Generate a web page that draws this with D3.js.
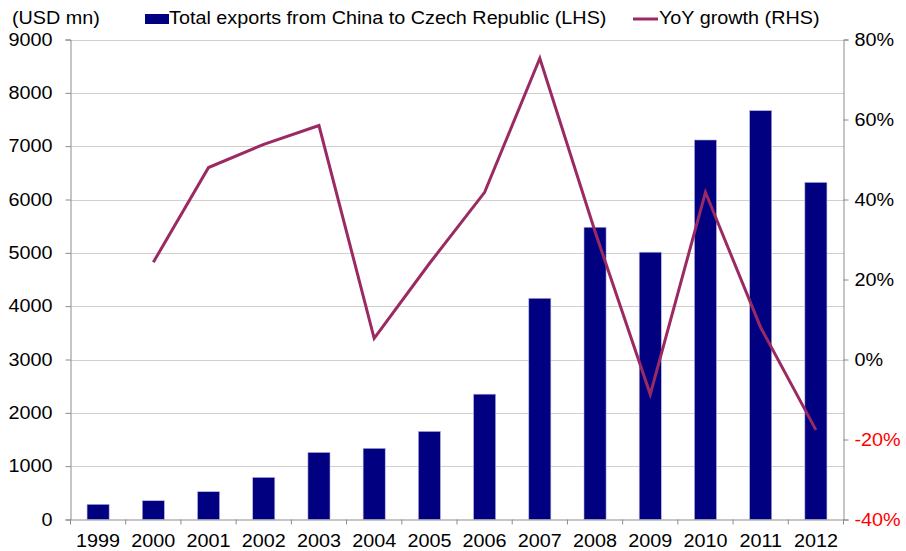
<!DOCTYPE html>
<html>
<head>
<meta charset="utf-8">
<script src="https://cdn.jsdelivr.net/npm/d3@7"></script>
<style>
  html, body { margin: 0; padding: 0; background: #fff; }
  svg { display: block; font-family: "Liberation Sans", Arial, sans-serif; }
</style>
</head>
<body>
<svg id="chart" width="906" height="551"></svg>
<script>
// Annual exports from China to the Czech Republic (USD mn) and YoY growth
const years = ["1999","2000","2001","2002","2003","2004","2005","2006","2007","2008","2009","2010","2011","2012"];
const exportsUsd = [285, 352, 521, 790, 1258, 1335, 1652, 2350, 4148, 5480, 5012, 7116, 7666, 6322];
const yoyGrowth = [null, 24.3, 48.0, 53.8, 58.5, 5.3, 24.0, 41.8, 75.3, 32.0, -8.7, 41.8, 8.0, -17.6];
const leftTicks = [0,1000,2000,3000,4000,5000,6000,7000,8000,9000];
const rightTicks = [-40,-20,0,20,40,60,80];

const svg = d3.select("#chart");
const m = { left: 70.5, right: 843.5, top: 39.5, bottom: 519.5 };
const FONT = 17.5;
const STRETCH = 1.13;

const x = d3.scaleBand().domain(years).range([m.left, m.right]).paddingInner(0.6).paddingOuter(0.3);
const xCat = d3.scaleBand().domain(years).range([m.left, m.right]);
const yL = d3.scaleLinear().domain([0, 9000]).range([m.bottom, m.top]);
const yR = d3.scaleLinear().domain([-40, 80]).range([m.bottom, m.top]);

// gridlines
svg.append("g").selectAll("line").data(leftTicks.slice(1)).join("line")
  .attr("x1", m.left).attr("x2", m.right)
  .attr("y1", d => Math.round(yL(d)) + 0.5).attr("y2", d => Math.round(yL(d)) + 0.5)
  .attr("stroke", "#a0a0a0").attr("stroke-width", 1).attr("stroke-dasharray", "1,1");

// bars
svg.append("g").selectAll("rect").data(years).join("rect")
  .attr("x", d => x(d)).attr("width", x.bandwidth())
  .attr("y", (d, i) => yL(exportsUsd[i]))
  .attr("height", (d, i) => yL(0) - yL(exportsUsd[i]))
  .attr("fill", "#000080").attr("stroke", "#b8b8e0").attr("stroke-width", 0.6);

// axes
const axisColor = "#8c8c8c";
const gL = svg.append("g").attr("transform", `translate(${m.left},0)`)
  .call(d3.axisLeft(yL).tickValues(leftTicks).tickSize(5).tickPadding(13).tickFormat(d3.format("d")));
const gR = svg.append("g").attr("transform", `translate(${m.right},0)`)
  .call(d3.axisRight(yR).tickValues(rightTicks).tickSize(5).tickPadding(6).tickFormat(d => d + "%"));
const gB = svg.append("g").attr("transform", `translate(0,${m.bottom})`)
  .call(d3.axisBottom(xCat).tickSize(0).tickPadding(15));

[gL, gR, gB].forEach(g => {
  g.select(".domain").attr("stroke", axisColor);
  g.selectAll(".tick line").attr("stroke", axisColor);
  g.selectAll("text").attr("font-size", FONT).attr("fill", "#000")
    .attr("font-family", "'Liberation Sans', Arial, sans-serif");
});
gR.selectAll("text").attr("fill", d => d < 0 ? "#ff0000" : "#000");

// category boundary ticks on the x axis
svg.append("g").selectAll("line").data(d3.range(years.length + 1)).join("line")
  .attr("x1", i => m.left + i * xCat.step()).attr("x2", i => m.left + i * xCat.step())
  .attr("y1", m.bottom).attr("y2", m.bottom + 5)
  .attr("stroke", axisColor);

// growth line
const line = d3.line()
  .defined(d => d.v !== null)
  .x(d => xCat(d.y) + xCat.bandwidth() / 2)
  .y(d => yR(d.v));
svg.append("path")
  .datum(years.map((y, i) => ({ y, v: yoyGrowth[i] })))
  .attr("d", line)
  .attr("fill", "none").attr("stroke", "#9b2a63").attr("stroke-width", 3)
  .attr("stroke-linejoin", "miter");

// titles and legend
const txt = (xp, yp, s) => svg.append("text").attr("x", xp).attr("y", yp)
  .attr("font-size", FONT).attr("fill", "#000").text(s);
txt(12, 24, "(USD mn)");
svg.append("rect").attr("x", 145).attr("y", 14).attr("width", 24).attr("height", 10).attr("fill", "#000080");
txt(169, 24, "Total exports from China to Czech Republic (LHS)");
svg.append("line").attr("x1", 633).attr("x2", 658).attr("y1", 19).attr("y2", 19)
  .attr("stroke", "#9b2a63").attr("stroke-width", 3);
txt(659, 24, "YoY growth (RHS)");

// the typeface is set slightly wide: stretch every label horizontally
svg.selectAll("text").each(function () {
  const w = this.getComputedTextLength();
  d3.select(this).attr("textLength", w * STRETCH).attr("lengthAdjust", "spacingAndGlyphs");
});
</script>
</body>
</html>
